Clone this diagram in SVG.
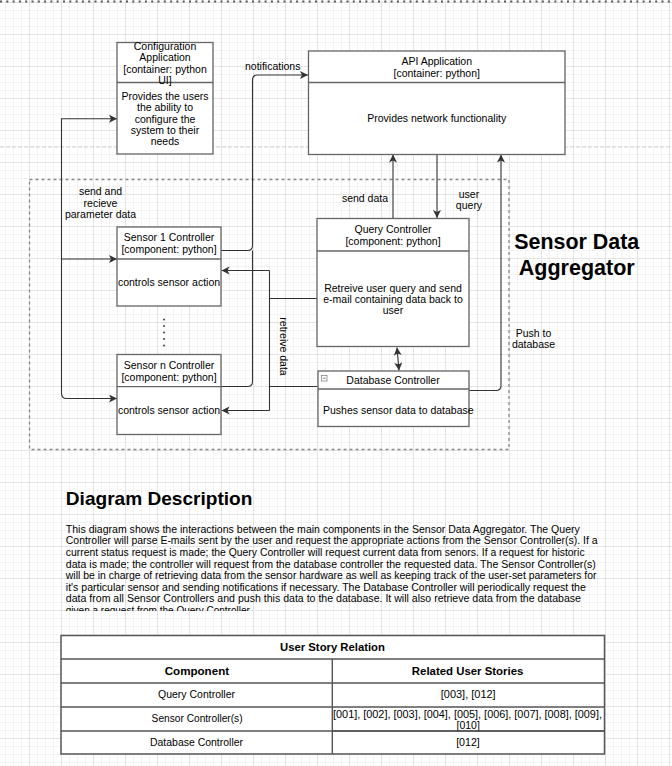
<svg xmlns="http://www.w3.org/2000/svg" width="672" height="766" viewBox="0 0 672 766">
<style>
text{font-family:"Liberation Sans",Arial,sans-serif;fill:#000}
.n{font-size:10.5px;text-anchor:middle}
.box{fill:#fff;stroke:#666;stroke-width:1.3}
.div{stroke:#666;stroke-width:1.3}
.c{fill:none;stroke:#333;stroke-width:1.1}
.p{font-size:10px}
.t{font-size:10px;text-anchor:middle}
.tb{font-size:11px;font-weight:bold;text-anchor:middle}
.tl{stroke:#555;stroke-width:1.4;fill:none}
</style>
<defs>
<pattern id="minor" x="5" y="2" width="8" height="8" patternUnits="userSpaceOnUse"><path d="M0.5,0V8M0,0.5H8" stroke="#f3f3f3" stroke-width="1" fill="none"/></pattern>
<pattern id="major" x="29" y="2" width="32" height="32" patternUnits="userSpaceOnUse"><path d="M0.5,0V32M0,0.5H32" stroke="#e3e3e3" stroke-width="1" fill="none"/></pattern>
<marker id="ar" markerUnits="userSpaceOnUse" markerWidth="10" markerHeight="10" refX="8" refY="4" orient="auto-start-reverse"><path d="M0,0L8,4L0,8L2,4z" fill="#333"/></marker>
<clipPath id="descClip"><rect x="0" y="515" width="672" height="96"/></clipPath>
</defs>
<rect width="672" height="766" fill="#fff"/>
<rect width="672" height="766" fill="url(#minor)"/>
<rect width="672" height="766" fill="url(#major)"/>
<line x1="0" y1="1.5" x2="672" y2="1.5" stroke="#555" stroke-width="2" stroke-dasharray="2,4.3"/>
<line x1="0" y1="147" x2="672" y2="147" stroke="#cfcfcf" stroke-width="1" stroke-dasharray="4,2"/>
<rect id="boundary" x="29.5" y="179.5" width="479.5" height="270" fill="none" stroke="#888" stroke-width="1.3" stroke-dasharray="3,3"/>

<g id="connectors">
<path class="c" d="M117,118.7H61.5V393Q61.5,398.5 66.5,398.5H117" marker-start="url(#ar)" marker-end="url(#ar)"/>
<path class="c" d="M61.5,259H117" marker-end="url(#ar)"/>
<path class="c" d="M221,250.5H247.5Q252.5,250.5 252.5,245.5V80Q252.5,75 257.5,75H308" marker-end="url(#ar)"/>
<path class="c" d="M221,386.5H247.5Q252.5,386.5 252.5,381.5V250.5"/>
<path class="c" d="M317,298.5H269.5"/>
<path class="c" d="M269.5,270.5V410.5"/>
<path class="c" d="M269.5,270.5H221.5" marker-end="url(#ar)"/>
<path class="c" d="M269.5,410.5H221.5" marker-end="url(#ar)"/>
<path class="c" d="M317.5,386.5H269.5"/>
<path class="c" d="M393,218V154.5" marker-end="url(#ar)"/>
<path class="c" d="M437,154.5V218" marker-end="url(#ar)"/>
<path class="c" d="M469,390.5H496Q501,390.5 501,385.5V154.5" marker-end="url(#ar)"/>
<path class="c" d="M397,347.5L399,370.5" marker-start="url(#ar)" marker-end="url(#ar)"/>
<text class="n" x="272.7" y="70.4">notifications</text>
<text class="n" x="100.5" y="195.4">send and</text>
<text class="n" x="100.5" y="206.6">recieve</text>
<text class="n" x="100.5" y="218.2">parameter data</text>
<text class="n" x="365" y="202.4">send data</text>
<text class="n" x="469" y="197.7">user</text>
<text class="n" x="469" y="208.7">query</text>
<text class="n" x="533.5" y="337.4">Push to</text>
<text class="n" x="533.5" y="348.4">database</text>
<text class="n" transform="translate(283.3,346.5) rotate(90)" x="0" y="3.7">retreive data</text>
</g>

<g id="config-app">
<rect class="box" x="117" y="42.5" width="96" height="111.5"/>
<line class="div" x1="117" y1="82.5" x2="213" y2="82.5"/>
<text class="n" x="165" y="49.7">Configuration</text>
<text class="n" x="165" y="61.4">Application</text>
<text class="n" x="165" y="73">[container: python</text>
<text class="n" x="165" y="84.3">UI]</text>
<text class="n" x="165" y="99.7">Provides the users</text>
<text class="n" x="165" y="111.4">the ability to</text>
<text class="n" x="165" y="122.7">configure the</text>
<text class="n" x="165" y="134">system to their</text>
<text class="n" x="165" y="145.4">needs</text>
</g>

<g id="api-app">
<rect class="box" x="308.5" y="51" width="256.5" height="103.5"/>
<line class="div" x1="308.5" y1="82.5" x2="565" y2="82.5"/>
<text class="n" x="436.7" y="65.4">API Application</text>
<text class="n" x="436.7" y="76.7">[container: python]</text>
<text class="n" x="436.7" y="122.4">Provides network functionality</text>
</g>

<g id="query-controller">
<rect class="box" x="317" y="218.5" width="152" height="128"/>
<line class="div" x1="317" y1="251" x2="469" y2="251"/>
<text class="n" x="393" y="233.4">Query Controller</text>
<text class="n" x="393" y="244.7">[component: python]</text>
<text class="n" x="393" y="291.7">Retreive user query and send</text>
<text class="n" x="393" y="303">e-mail containing data back to</text>
<text class="n" x="393" y="314.4">user</text>
</g>

<g id="database-controller">
<rect class="box" x="318" y="371" width="151" height="55.5"/>
<line class="div" x1="318" y1="389" x2="469" y2="389"/>
<rect x="321.5" y="375.5" width="5.5" height="5.5" fill="#fff" stroke="#888" stroke-width="0.8"/>
<line x1="322.8" y1="378.2" x2="325.7" y2="378.2" stroke="#666" stroke-width="0.8"/>
<text class="n" x="393" y="384.4">Database Controller</text>
<text class="n" x="398.3" y="414.4">Pushes sensor data to database</text>
</g>

<g id="sensor-1-controller">
<rect class="box" x="117" y="227" width="104" height="79"/>
<line class="div" x1="117" y1="259" x2="221" y2="259"/>
<text class="n" x="169" y="241.4">Sensor 1 Controller</text>
<text class="n" x="169" y="252.7">[component: python]</text>
<text class="n" x="169" y="286.4">controls sensor action</text>
</g>

<g id="sensor-dots" fill="#333">
<circle cx="164" cy="319.5" r="0.9"/>
<circle cx="164" cy="326" r="0.9"/>
<circle cx="164" cy="332.5" r="0.9"/>
<circle cx="164" cy="339" r="0.9"/>
<circle cx="164" cy="345.5" r="0.9"/>
</g>

<g id="sensor-n-controller">
<rect class="box" x="117" y="354.5" width="104" height="80"/>
<line class="div" x1="117" y1="386.7" x2="221" y2="386.7"/>
<text class="n" x="169" y="369.4">Sensor n Controller</text>
<text class="n" x="169" y="380.7">[component: python]</text>
<text class="n" x="169" y="414.4">controls sensor action</text>
</g>

<g id="title">
<text x="576.7" y="249" font-size="22" font-weight="bold" text-anchor="middle" textLength="125" lengthAdjust="spacingAndGlyphs">Sensor Data</text>
<text x="576.7" y="275" font-size="22" font-weight="bold" text-anchor="middle" textLength="116" lengthAdjust="spacingAndGlyphs">Aggregator</text>
</g>

<g id="description">
<text x="65.8" y="505" font-size="19" font-weight="bold" textLength="186.6" lengthAdjust="spacingAndGlyphs">Diagram Description</text>
<g clip-path="url(#descClip)">
<text class="p" x="65.8" y="532.7" textLength="514" lengthAdjust="spacingAndGlyphs">This diagram shows the interactions between the main components in the Sensor Data Aggregator. The Query</text>
<text class="p" x="65.8" y="544.3" textLength="531.8" lengthAdjust="spacingAndGlyphs">Controller will parse E-mails sent by the user and request the appropriate actions from the Sensor Controller(s). If a</text>
<text class="p" x="65.8" y="555.9" textLength="518.8" lengthAdjust="spacingAndGlyphs">current status request is made; the Query Controller will request current data from senors. If a request for historic</text>
<text class="p" x="65.8" y="567.5" textLength="529.9" lengthAdjust="spacingAndGlyphs">data is made; the controller will request from the database controller the requested data. The Sensor Controller(s)</text>
<text class="p" x="65.8" y="579.1" textLength="530.7" lengthAdjust="spacingAndGlyphs">will be in charge of retrieving data from the sensor hardware as well as keeping track of the user-set parameters for</text>
<text class="p" x="65.8" y="590.7" textLength="520" lengthAdjust="spacingAndGlyphs">it's particular sensor and sending notifications if necessary. The Database Controller will periodically request the</text>
<text class="p" x="65.8" y="602.3" textLength="515.2" lengthAdjust="spacingAndGlyphs">data from all Sensor Controllers and push this data to the database. It will also retrieve data from the database</text>
<text class="p" x="65.8" y="613.9">given a request from the Query Controller.</text>
</g>
</g>

<g id="user-story-table">
<rect x="61" y="635.5" width="543.5" height="118.5" fill="#fff" stroke="#555" stroke-width="1.5"/>
<path class="tl" d="M61,659H604.5M61,683H604.5M61,707H604.5M61,731H604.5M332.3,659V754"/>
<text class="tb" x="332.5" y="651" textLength="104.8" lengthAdjust="spacingAndGlyphs">User Story Relation</text>
<text class="tb" x="196.9" y="674.7" textLength="64.4" lengthAdjust="spacingAndGlyphs">Component</text>
<text class="tb" x="467.6" y="674.7" textLength="111.5" lengthAdjust="spacingAndGlyphs">Related User Stories</text>
<text class="t" x="196.5" y="698.3" textLength="77" lengthAdjust="spacingAndGlyphs">Query Controller</text>
<text class="t" x="468.2" y="698" textLength="54.9" lengthAdjust="spacingAndGlyphs">[003], [012]</text>
<text class="t" x="197.1" y="722" textLength="91" lengthAdjust="spacingAndGlyphs">Sensor Controller(s)</text>
<text class="t" x="467.5" y="718" textLength="268.9" lengthAdjust="spacingAndGlyphs">[001], [002], [003], [004], [005], [006], [007], [008], [009],</text>
<text class="t" x="468.2" y="728.5" textLength="23.3" lengthAdjust="spacingAndGlyphs">[010]</text>
<path class="tl" d="M332.3,731H604.5"/>
<text class="t" x="196.5" y="745.7" textLength="93" lengthAdjust="spacingAndGlyphs">Database Controller</text>
<text class="t" x="468" y="745.7" textLength="23.7" lengthAdjust="spacingAndGlyphs">[012]</text>
</g>
</svg>
